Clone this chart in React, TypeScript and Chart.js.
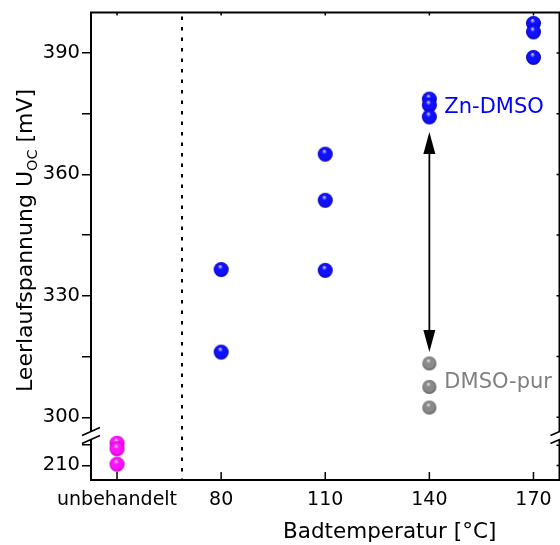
import React, { useEffect, useRef } from 'react';
import { Chart, registerables } from 'chart.js';

Chart.register(...registerables);

// x axis: numeric bath temperature, with the untreated samples parked at x = 50
const X_TICKS = [50, 80, 110, 140, 170];
const X_TICK_LABELS = ['unbehandelt', '80', '110', '140', '170'];
const X_MIN = 42.5;
const X_MAX = 177.5;
const UNTREATED_X = 50;
const DIVIDER_X = 68.75;

// broken y axis: upper segment (treated cells) and lower segment (untreated)
const Y_HIGH_MIN = 295.5;
const Y_HIGH_MAX = 400;
const Y_LOW_MIN = 206.4;
const Y_LOW_MAX = 217.4;
const Y_HIGH_TICKS = [300, 315, 330, 345, 360, 375, 390];
const Y_HIGH_LABELED = [300, 330, 360, 390];
const Y_LOW_TICKS = [210, 215];
const Y_LOW_LABELED = [210];

// measured open-circuit voltages [mV]
const untreatedValues = [215.5, 214.1, 210.3];
const znTemps = [80, 80, 110, 110, 110, 140, 140, 140, 170, 170, 170];
const znValues = [336.5, 316.1, 365.0, 353.6, 336.3, 378.6, 377.1, 374.2, 397.3, 395.2, 388.9];
const pureTemps = [140, 140, 140];
const pureValues = [313.3, 307.5, 302.4];

// double arrow between the two bath types at 140 °C
const ARROW_X = 140;
const ARROW_TOP = 370.5;
const ARROW_BOTTOM = 316.1;

// series labels placed next to the 140 °C groups
const ZN_LABEL = { x: 140, y: 376.5, text: 'Zn-DMSO', color: '#0000ff' };
const PURE_LABEL = { x: 140, y: 308.6, text: 'DMSO-pur', color: '#808080' };

const FONT = '"DejaVu Sans", "Liberation Sans", Arial, sans-serif';

function makeSphere(r: number, light: string, base: string, dark: string): HTMLCanvasElement {
  const size = Math.ceil(r * 2) + 2;
  const c = document.createElement('canvas');
  c.width = size;
  c.height = size;
  const g = c.getContext('2d') as CanvasRenderingContext2D;
  const cx = size / 2;
  const cy = size / 2;
  const grad = g.createRadialGradient(cx - r * 0.15, cy - r * 0.45, r * 0.05, cx, cy, r);
  grad.addColorStop(0, light);
  grad.addColorStop(0.3, base);
  grad.addColorStop(0.75, base);
  grad.addColorStop(1, dark);
  g.fillStyle = grad;
  g.beginPath();
  g.arc(cx, cy, r, 0, Math.PI * 2);
  g.fill();
  return c;
}

const decorPlugin = {
  id: 'decor',
  beforeDatasetsDraw(chart: any) {
    const { ctx, chartArea: a, scales } = chart;
    const x = scales.x;
    const yH = scales.yHigh;

    // dotted separator between untreated and treated samples
    ctx.save();
    ctx.strokeStyle = '#000';
    ctx.lineWidth = 2;
    ctx.setLineDash([3.5, 7]);
    const dx = Math.round(x.getPixelForValue(DIVIDER_X));
    ctx.beginPath();
    ctx.moveTo(dx, a.top + 4);
    ctx.lineTo(dx, a.bottom);
    ctx.stroke();
    ctx.restore();

    // double-headed arrow
    const ax = x.getPixelForValue(ARROW_X);
    const yt = yH.getPixelForValue(ARROW_TOP);
    const yb = yH.getPixelForValue(ARROW_BOTTOM);
    const headLen = 22;
    const headHalf = 6;
    ctx.save();
    ctx.strokeStyle = '#000';
    ctx.fillStyle = '#000';
    ctx.lineWidth = 1.8;
    ctx.beginPath();
    ctx.moveTo(ax, yt + headLen - 2);
    ctx.lineTo(ax, yb - headLen + 2);
    ctx.stroke();
    ctx.beginPath();
    ctx.moveTo(ax, yt);
    ctx.lineTo(ax - headHalf, yt + headLen);
    ctx.lineTo(ax + headHalf, yt + headLen);
    ctx.closePath();
    ctx.fill();
    ctx.beginPath();
    ctx.moveTo(ax, yb);
    ctx.lineTo(ax - headHalf, yb - headLen);
    ctx.lineTo(ax + headHalf, yb - headLen);
    ctx.closePath();
    ctx.fill();
    ctx.restore();
  },
  afterDraw(chart: any) {
    const { ctx, chartArea: a, scales } = chart;
    const x = scales.x;
    const yH = scales.yHigh;
    const yL = scales.yLow;
    const brk = yH.bottom;
    const gap = 4;

    ctx.save();
    ctx.strokeStyle = '#000';
    ctx.lineWidth = 2;
    ctx.lineCap = 'butt';

    // frame with interrupted vertical sides
    ctx.beginPath();
    ctx.moveTo(a.left - 1, a.top);
    ctx.lineTo(a.right + 1, a.top);
    ctx.moveTo(a.left - 1, a.bottom);
    ctx.lineTo(a.right + 1, a.bottom);
    ctx.moveTo(a.left, a.top);
    ctx.lineTo(a.left, brk - gap);
    ctx.moveTo(a.left, brk + gap);
    ctx.lineTo(a.left, a.bottom);
    ctx.moveTo(a.right, a.top);
    ctx.lineTo(a.right, brk - gap);
    ctx.moveTo(a.right, brk + gap);
    ctx.lineTo(a.right, a.bottom);
    ctx.stroke();

    // axis break marks
    ctx.lineWidth = 1.6;
    ctx.beginPath();
    for (const ex of [a.left, a.right]) {
      for (const off of [-gap, gap]) {
        ctx.moveTo(ex - 9, brk + off + 4);
        ctx.lineTo(ex + 9, brk + off - 4);
      }
    }
    ctx.stroke();

    // inward ticks: bottom, top, right
    ctx.lineWidth = 1.5;
    ctx.beginPath();
    for (const v of X_TICKS) {
      const px = x.getPixelForValue(v);
      ctx.moveTo(px, a.bottom);
      ctx.lineTo(px, a.bottom - 8);
      ctx.moveTo(px, a.top);
      ctx.lineTo(px, a.top + 3);
    }
    for (const v of Y_HIGH_TICKS) {
      const py = yH.getPixelForValue(v);
      ctx.moveTo(a.right, py);
      ctx.lineTo(a.right - 3, py);
    }
    for (const v of Y_LOW_TICKS) {
      const py = yL.getPixelForValue(v);
      ctx.moveTo(a.right, py);
      ctx.lineTo(a.right - 3, py);
    }
    ctx.stroke();

    // series labels
    ctx.textAlign = 'left';
    ctx.textBaseline = 'middle';
    ctx.font = `21px ${FONT}`;
    for (const lab of [ZN_LABEL, PURE_LABEL]) {
      ctx.fillStyle = lab.color;
      ctx.fillText(lab.text, x.getPixelForValue(lab.x) + 15, yH.getPixelForValue(lab.y));
    }

    // x axis title
    ctx.fillStyle = '#000';
    ctx.textBaseline = 'alphabetic';
    ctx.font = `21.5px ${FONT}`;
    ctx.fillText('Badtemperatur [°C]', 283, 538);

    // y axis title with subscript
    ctx.translate(32, 392);
    ctx.rotate(-Math.PI / 2);
    const big = `22px ${FONT}`;
    const small = `14.5px ${FONT}`;
    let tx = 0;
    ctx.font = big;
    const head = 'Leerlaufspannung U';
    ctx.fillText(head, tx, 0);
    tx += ctx.measureText(head).width;
    ctx.font = small;
    ctx.fillText('OC', tx, 5);
    tx += ctx.measureText('OC').width;
    ctx.font = big;
    ctx.fillText(' [mV]', tx, 0);
    ctx.restore();
  },
};

function yScale(min: number, max: number, ticks: number[], labeled: number[]) {
  return {
    type: 'linear' as const,
    position: 'left' as const,
    stack: 'voltage',
    stackWeight: max - min,
    min,
    max,
    afterBuildTicks: (s: any) => {
      s.ticks = ticks.map((v) => ({ value: v }));
    },
    afterFit: (s: any) => {
      s.width = 91;
      s.paddingTop = 0;
      s.paddingBottom = 0;
    },
    ticks: {
      autoSkip: false,
      padding: 2,
      color: '#000',
      font: { family: FONT, size: 19.5 },
      callback: (v: any) => (labeled.includes(Number(v)) ? String(v) : ''),
    },
    grid: {
      drawOnChartArea: false,
      drawTicks: true,
      tickLength: 9,
      color: '#000',
      lineWidth: 1.5,
    },
    border: { display: false },
  };
}

export default function App() {
  const ref = useRef<HTMLCanvasElement | null>(null);

  useEffect(() => {
    document.body.style.margin = '0';
    const canvas = ref.current;
    if (!canvas) return;

    const blue = makeSphere(7.5, '#c8c8ff', '#1010ff', '#0000a8');
    const gray = makeSphere(7, '#e6e6e6', '#8a8a8a', '#555555');
    const magenta = makeSphere(7.5, '#ffd0ff', '#ff10ff', '#b000b0');

    const chart = new Chart(canvas, {
      type: 'scatter',
      data: {
        datasets: [
          {
            label: 'unbehandelt',
            data: untreatedValues.map((v) => ({ x: UNTREATED_X, y: v })),
            yAxisID: 'yLow',
            pointStyle: magenta as any,
            pointRadius: 7.5,
          },
          {
            label: 'Zn-DMSO',
            data: znTemps.map((t, i) => ({ x: t, y: znValues[i] })),
            yAxisID: 'yHigh',
            pointStyle: blue as any,
            pointRadius: 7.5,
          },
          {
            label: 'DMSO-pur',
            data: pureTemps.map((t, i) => ({ x: t, y: pureValues[i] })),
            yAxisID: 'yHigh',
            pointStyle: gray as any,
            pointRadius: 7,
          },
        ],
      },
      options: {
        responsive: false,
        animation: false,
        events: [],
        layout: { autoPadding: false, padding: { top: 12.5, right: 0.5, left: 0, bottom: 0 } },
        plugins: { legend: { display: false }, tooltip: { enabled: false } },
        scales: {
          x: {
            type: 'linear',
            position: 'bottom',
            min: X_MIN,
            max: X_MAX,
            afterBuildTicks: (s: any) => {
              s.ticks = X_TICKS.map((v) => ({ value: v }));
            },
            afterFit: (s: any) => {
              s.height = 65;
              s.paddingLeft = 0;
              s.paddingRight = 0;
            },
            ticks: {
              autoSkip: false,
              maxRotation: 0,
              minRotation: 0,
              padding: 9,
              color: '#000',
              font: { family: FONT, size: 19 },
              callback: (v: any) => {
                const i = X_TICKS.indexOf(Number(v));
                return i >= 0 ? X_TICK_LABELS[i] : '';
              },
            },
            grid: { display: false, drawTicks: false },
            border: { display: false },
          },
          yLow: yScale(Y_LOW_MIN, Y_LOW_MAX, Y_LOW_TICKS, Y_LOW_LABELED),
          yHigh: yScale(Y_HIGH_MIN, Y_HIGH_MAX, Y_HIGH_TICKS, Y_HIGH_LABELED),
        } as any,
      },
      plugins: [decorPlugin],
    });

    return () => chart.destroy();
  }, []);

  return <canvas ref={ref} width={560} height={545} style={{ display: 'block' }} />;
}
